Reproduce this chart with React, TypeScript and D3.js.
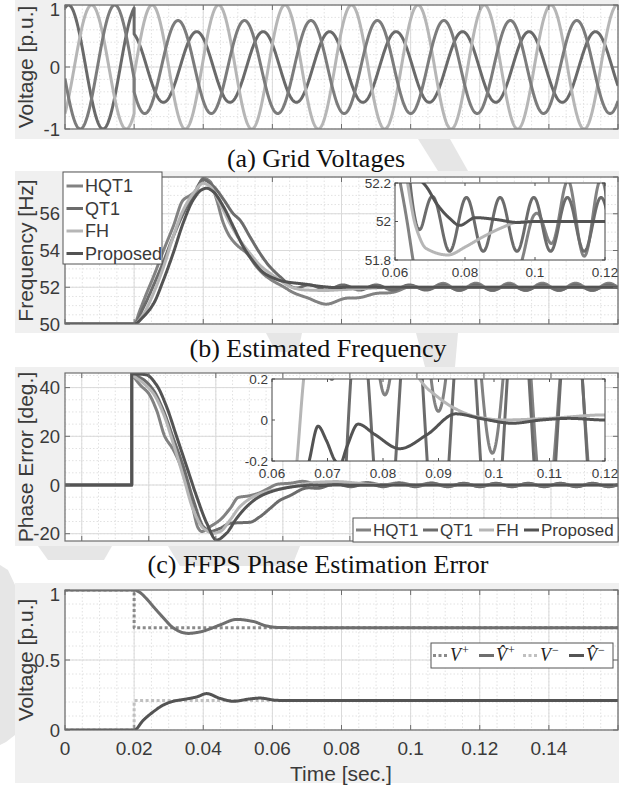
import React from "react";
import * as d3 from "d3";

type Pt = [number, number];

const W = 636;
const H = 789;
const LEFT = 65;
const RIGHT = 618;
const SANS = "'Liberation Sans', Arial, Helvetica, sans-serif";
const SERIF = "'Liberation Serif', 'Times New Roman', Times, serif";
const TXT = "#3a3a3a";
const FIG_BG = "#f0f0f0";
const GRID_MAJOR = "#dadada";
const GRID_MINOR = "#e2e2e2";
const AXIS = "#6e6e6e";
const MARK = "#e6e6e6";

// estimator names / colours (legend order = draw order)
const methods = ["HQT1", "QT1", "FH", "Proposed"];
const methodColors = ["#828282", "#6c6c6c", "#b6b6b6", "#535353"];

// ---------- (a) grid voltages: crest time + amplitude of each phase, before / after the fault
const faultT = 0.02;
const fPre = 50;
const fPost = 52;
const phaseColors = ["#6a6a6a", "#b6b6b6", "#7c7c7c"];
const crestPre = [0.001, 0.0077, 0.0144];
const ampPre = [1, 1, 1];
const crestPost = [0.0381, 0.0252, 0.0327];
const ampPost = [0.57, 1.0, 0.75];

// ---------- (b) estimated frequency [Hz]
const freqHQT1: Pt[] = [
  [0, 50], [0.02, 50], [0.0217, 50.76], [0.0236, 51.67], [0.0256, 52.57], [0.0285, 54.0],
  [0.0313, 55.3], [0.0342, 56.75], [0.0362, 57.0], [0.0381, 57.3], [0.04, 57.93], [0.042, 57.75],
  [0.0439, 56.75], [0.0458, 55.5], [0.0477, 54.75], [0.0497, 54.3], [0.0526, 53.85], [0.0555, 53.1],
  [0.0584, 52.57], [0.0612, 52.2], [0.0641, 51.94], [0.067, 51.67], [0.0699, 51.4], [0.0728, 51.2],
  [0.0755, 51.13], [0.0823, 51.4], [0.0919, 51.67], [0.096, 51.82], [0.1, 51.97], [0.105, 52.02],
  [0.16, 52.02],
];
const freqQT1: Pt[] = [
  [0, 50], [0.02, 50], [0.0227, 50.9], [0.0256, 52.1], [0.0285, 53.4], [0.0313, 54.75],
  [0.0342, 56.0], [0.0371, 57.0], [0.04, 57.85], [0.0429, 57.5], [0.0458, 56.8], [0.0487, 56.0],
  [0.0506, 55.66], [0.0535, 54.75], [0.0564, 53.85], [0.0593, 53.1], [0.0622, 52.5], [0.0651, 52.2],
  [0.068, 52.03], [0.072, 51.985], [0.16, 51.985],
];
const freqFH: Pt[] = [
  [0, 50], [0.02, 50], [0.0227, 50.54], [0.0256, 51.67], [0.0285, 53.1], [0.0313, 54.75],
  [0.0342, 56.2], [0.0371, 57.1], [0.04, 57.66], [0.042, 57.48], [0.0448, 56.57], [0.0477, 55.48],
  [0.0506, 54.57], [0.0535, 53.85], [0.0564, 53.2], [0.0593, 52.76], [0.0622, 52.39], [0.0636, 52.2],
  [0.066, 51.97], [0.0689, 51.86], [0.0751, 51.826], [0.0803, 51.87], [0.0851, 51.92], [0.0908, 51.97],
  [0.0946, 51.995], [0.1, 52.0], [0.16, 52.0],
];
const freqProposed: Pt[] = [
  [0, 50], [0.02, 50], [0.0227, 50.4], [0.0256, 51.1], [0.0285, 52.4], [0.0313, 53.85],
  [0.0342, 55.5], [0.0371, 56.76], [0.0395, 57.3], [0.041, 57.39], [0.0429, 57.2], [0.0458, 56.4],
  [0.0487, 55.3], [0.0516, 54.2], [0.0545, 53.4], [0.0574, 52.8], [0.0603, 52.5], [0.0632, 52.32],
  [0.066, 52.24], [0.069, 52.18], [0.072, 52.09], [0.0754, 52.02], [0.0785, 51.98], [0.083, 52.02],
  [0.089, 52.01], [0.095, 51.995], [0.1, 52.0], [0.16, 52.0],
];
// 2x52 Hz ripple: crest time and amplitude envelopes [Hz]
const rippleHz = 104;
const freqRippleCrest = 0.0708;
const freqEnvHQT1: Pt[] = [[0.055, 0], [0.065, 0.05], [0.095, 0.05], [0.1, 0.07], [0.105, 0.14], [0.11, 0.2], [0.16, 0.2]];
const freqEnvQT1: Pt[] = [[0.058, 0], [0.064, 0.14], [0.16, 0.14]];

// ---------- (c) phase error [deg]
const phaseJumpT = 0.0149;
const phaseHQT1: Pt[] = [
  [0.0149, 45.6], [0.0174, 41.1], [0.0199, 37.7], [0.0223, 30.8], [0.0248, 19.9], [0.0273, 14.5],
  [0.0303, 4.9], [0.0328, -7.5], [0.0348, -17.8], [0.0358, -19.1], [0.0383, -17.1], [0.0413, -14.3],
  [0.0443, -9.6], [0.0467, -5.1], [0.0497, -4.5], [0.0527, -3.4], [0.0557, -1.4], [0.0587, 0.4],
  [0.0622, 1.0], [0.0661, 1.0], [0.0701, 0.7], [0.08, 0.6], [0.09, 0.5], [0.1, 0.35], [0.11, 0.1],
  [0.12, 0.0], [0.16, 0.0],
];
const phaseQT1: Pt[] = [
  [0.0149, 45.6], [0.0184, 43.3], [0.0213, 39.1], [0.0243, 30.8], [0.0273, 19.2], [0.0303, 7.6],
  [0.0333, -6.2], [0.0363, -17.1], [0.0383, -19.1], [0.0413, -17.8], [0.0443, -15.7], [0.0472, -15.5],
  [0.0502, -15.3], [0.0532, -13.0], [0.0562, -9.6], [0.0592, -6.2], [0.0622, -4.1], [0.0661, -2.1],
  [0.0701, -0.7], [0.08, 0.0], [0.16, 0.0],
];
const phaseFH: Pt[] = [
  [0.0149, 45.3], [0.0184, 41.8], [0.0213, 37.7], [0.0243, 29.5], [0.0273, 17.1], [0.0303, 3.5],
  [0.0333, -10.3], [0.0363, -17.8], [0.0393, -19.8], [0.0413, -19.1], [0.0443, -14.3], [0.0472, -8.9],
  [0.0512, -4.8], [0.0552, -2.7], [0.0601, -1.4], [0.0645, -0.2], [0.0657, 0.2], [0.07, 1.1],
  [0.076, 1.4], [0.082, 0.8], [0.0866, 0.2], [0.0896, 0.118], [0.0931, 0.054], [0.0968, 0.016],
  [0.1015, 0.0], [0.1099, 0.008], [0.12, 0.025], [0.16, 0.02],
];
const phaseProposed: Pt[] = [
  [0.0149, 45.6], [0.0175, 45.5], [0.0194, 45.2], [0.0223, 41.1], [0.0253, 32.2], [0.0283, 19.9],
  [0.0313, 7.6], [0.0343, -4.8], [0.0373, -15.7], [0.0402, -22.6], [0.0432, -19.8], [0.0462, -13.7],
  [0.0492, -8.9], [0.0522, -5.5], [0.0552, -3.4], [0.0601, -1.4], [0.0645, -0.45], [0.0667, -0.2],
  [0.0683, -0.03], [0.0698, -0.1], [0.0714, -0.2], [0.0722, -0.22], [0.0735, -0.13], [0.0755, -0.02],
  [0.0785, -0.07], [0.083, -0.14], [0.088, -0.07], [0.0931, 0.03], [0.098, 0.005], [0.1033, -0.016],
  [0.1085, 0.0], [0.1135, 0.008], [0.12, 0.0], [0.16, 0.0],
];
const phaseRippleZero = 0.0731;
const phaseEnvHQT1: Pt[] = [[0.055, 0], [0.065, 0.5], [0.095, 0.45], [0.105, 0.6], [0.16, 0.6]];
const phaseEnvQT1: Pt[] = [[0.058, 0], [0.068, 0.7], [0.16, 0.7]];

// ---------- (d) sequence voltages [p.u.]
const vPosRef: Pt[] = [[0, 1], [0.02, 1], [0.02, 0.73], [0.16, 0.73]];
const vNegRef: Pt[] = [[0, 0], [0.02, 0], [0.02, 0.21], [0.16, 0.21]];
const vPosEst: Pt[] = [
  [0, 1], [0.02, 1], [0.0215, 0.985], [0.0235, 0.94], [0.0256, 0.88], [0.0285, 0.8], [0.0313, 0.73],
  [0.0342, 0.695], [0.0357, 0.69], [0.039, 0.7], [0.041, 0.714], [0.0448, 0.75], [0.0497, 0.79],
  [0.0545, 0.775], [0.058, 0.745], [0.0612, 0.733], [0.07, 0.73], [0.16, 0.73],
];
const vNegEst: Pt[] = [
  [0, 0], [0.02, 0], [0.0227, 0.071], [0.0256, 0.131], [0.0285, 0.179], [0.0313, 0.205],
  [0.0352, 0.222], [0.0381, 0.236], [0.041, 0.26], [0.0448, 0.226], [0.0487, 0.205], [0.0535, 0.222],
  [0.0564, 0.228], [0.0612, 0.212], [0.066, 0.21], [0.16, 0.21],
];
const seqLabels = [
  { base: "V", hat: false, sup: "+" },
  { base: "V", hat: true, sup: "+" },
  { base: "V", hat: false, sup: "\u2212" },
  { base: "V", hat: true, sup: "\u2212" },
];
const seqColors = ["#8a8a8a", "#6e6e6e", "#c0c0c0", "#545454"];

const timeTicks = [0, 0.02, 0.04, 0.06, 0.08, 0.1, 0.12, 0.14];

// faint background watermark pieces (page pixels)
const watermark: Pt[][] = [
  [[418, 139], [450, 139], [468, 171], [438, 171]],
  [[416, 333], [458, 333], [455, 367], [425, 367]],
  [[266, 333], [302, 333], [298, 352], [276, 352]],
  [[38, 546], [112, 546], [104, 560], [48, 560]],
  [[168, 546], [300, 546], [292, 566], [180, 566]],
  [[0, 565], [8, 570], [15, 585], [15, 735], [6, 742], [0, 745]],
];

// monotone cubic (Fritsch-Carlson) through the read points
function monotone(pts: Pt[]) {
  const n = pts.length;
  const xs = pts.map((p) => p[0]);
  const ys = pts.map((p) => p[1]);
  const d: number[] = [];
  for (let i = 0; i < n - 1; i++) d.push((ys[i + 1] - ys[i]) / (xs[i + 1] - xs[i]));
  const m: number[] = new Array(n).fill(0);
  m[0] = d[0];
  m[n - 1] = d[n - 2];
  for (let i = 1; i < n - 1; i++) {
    if (d[i - 1] * d[i] > 0) {
      const h0 = xs[i] - xs[i - 1];
      const h1 = xs[i + 1] - xs[i];
      const w1 = 2 * h1 + h0;
      const w2 = h1 + 2 * h0;
      m[i] = (w1 + w2) / (w1 / d[i - 1] + w2 / d[i]);
    }
  }
  return (t: number) => {
    if (t <= xs[0]) return ys[0];
    if (t >= xs[n - 1]) return ys[n - 1];
    const i = Math.min(d3.bisectRight(xs, t) - 1, n - 2);
    const h = xs[i + 1] - xs[i];
    const s = (t - xs[i]) / h;
    const s2 = s * s;
    const s3 = s2 * s;
    return (
      (2 * s3 - 3 * s2 + 1) * ys[i] + (s3 - 2 * s2 + s) * h * m[i] +
      (-2 * s3 + 3 * s2) * ys[i + 1] + (s3 - s2) * h * m[i + 1]
    );
  };
}

function envelope(pts: Pt[]) {
  return d3.scaleLinear().domain(pts.map((p) => p[0])).range(pts.map((p) => p[1])).clamp(true);
}

function sample(base: Pt[], extra?: (t: number) => number, step = 0.0001): Pt[] {
  const f = monotone(base);
  const t0 = base[0][0];
  const t1 = base[base.length - 1][0];
  const ts = d3.range(t0, t1, step).concat([t1]);
  return ts.map((t) => [t, f(t) + (extra ? extra(t) : 0)] as Pt);
}

function freqRipple(env: Pt[]) {
  const e = envelope(env);
  return (t: number) => e(t) * Math.cos(2 * Math.PI * rippleHz * (t - freqRippleCrest));
}
function phaseRipple(env: Pt[]) {
  const e = envelope(env);
  return (t: number) => e(t) * Math.sin(2 * Math.PI * rippleHz * (t - phaseRippleZero));
}

function phaseWave(i: number): Pt[] {
  const ts = d3.range(0, 0.16, 0.0001).concat([0.16]);
  const pre = (t: number) => ampPre[i] * Math.cos(2 * Math.PI * fPre * (t - crestPre[i]));
  const post = (t: number) => ampPost[i] * Math.cos(2 * Math.PI * fPost * (t - crestPost[i]));
  const out: Pt[] = [];
  ts.forEach((t) => {
    if (t < faultT - 1e-9) out.push([t, pre(t)]);
    else {
      if (out.length && out[out.length - 1][0] < faultT) {
        out.push([faultT, pre(faultT)]);
        out.push([faultT, post(faultT)]);
      }
      out.push([t, post(t)]);
    }
  });
  return out;
}

const fmt = (v: number) => String(+v.toFixed(3));

type Sc = d3.ScaleLinear<number, number>;

function Under({ xs, ys, xMinor, xMajor, yMinor, yMajor }: { xs: Sc; ys: Sc; xMinor: number[]; xMajor: number[]; yMinor: number[]; yMajor: number[] }) {
  const [top, bottom] = [ys.range()[1], ys.range()[0]];
  return (
    <g>
      <rect x={LEFT} y={top} width={RIGHT - LEFT} height={bottom - top} fill="#fff" />
      {xMinor.map((v, i) => (
        <line key={"xm" + i} x1={xs(v)} x2={xs(v)} y1={top} y2={bottom} stroke={GRID_MINOR} strokeDasharray="1.5,2" />
      ))}
      {yMinor.map((v, i) => (
        <line key={"ym" + i} x1={LEFT} x2={RIGHT} y1={ys(v)} y2={ys(v)} stroke={GRID_MINOR} strokeDasharray="1.5,2" />
      ))}
      {xMajor.map((v, i) => (
        <line key={"xM" + i} x1={xs(v)} x2={xs(v)} y1={top} y2={bottom} stroke={GRID_MAJOR} />
      ))}
      {yMajor.map((v, i) => (
        <line key={"yM" + i} x1={LEFT} x2={RIGHT} y1={ys(v)} y2={ys(v)} stroke={GRID_MAJOR} />
      ))}
    </g>
  );
}

function Over({ xs, ys, xMajor, yMajor, yLabels, yTitle, tick = 5 }: { xs: Sc; ys: Sc; xMajor: number[]; yMajor: number[]; yLabels: number[]; yTitle: string; tick?: number }) {
  const [top, bottom] = [ys.range()[1], ys.range()[0]];
  return (
    <g>
      {xMajor.map((v, i) => (
        <g key={"xt" + i} stroke={AXIS}>
          <line x1={xs(v)} x2={xs(v)} y1={bottom} y2={bottom - tick} />
          <line x1={xs(v)} x2={xs(v)} y1={top} y2={top + tick} />
        </g>
      ))}
      {yMajor.map((v, i) => (
        <g key={"yt" + i} stroke={AXIS}>
          <line x1={LEFT} x2={LEFT + tick} y1={ys(v)} y2={ys(v)} />
          <line x1={RIGHT} x2={RIGHT - tick} y1={ys(v)} y2={ys(v)} />
        </g>
      ))}
      <rect x={LEFT} y={top} width={RIGHT - LEFT} height={bottom - top} fill="none" stroke={AXIS} strokeWidth={1.2} />
      {yLabels.map((v, i) => (
        <text key={"yl" + i} x={60} y={Math.max(ys(v), top + 4)} textAnchor="end" dominantBaseline="central" fontSize={18.5} fill={TXT}>
          {fmt(v)}
        </text>
      ))}
      <text transform={`translate(25,${(top + bottom) / 2}) rotate(-90)`} textAnchor="middle" dominantBaseline="central" fontSize={21} fill={TXT}>
        {yTitle}
      </text>
    </g>
  );
}

function Inset({ id, xs, ys, xTicks, yTicks, curves, colors }: { id: string; xs: Sc; ys: Sc; xTicks: number[]; yTicks: number[]; curves: Pt[][]; colors: string[] }) {
  const [x0, x1] = xs.range();
  const [y1, y0] = ys.range();
  const line = d3.line<Pt>().x((p) => xs(p[0])).y((p) => ys(p[1]));
  const lo = xs.domain()[0] - 0.002;
  const hi = xs.domain()[1] + 0.002;
  return (
    <g>
      <defs>
        <clipPath id={id}>
          <rect x={x0} y={y0} width={x1 - x0} height={y1 - y0} />
        </clipPath>
      </defs>
      <rect x={x0} y={y0} width={x1 - x0} height={y1 - y0} fill="#fff" />
      <g clipPath={`url(#${id})`}>
        {curves.map((c, i) => (
          <path key={i} d={line(c.filter((p) => p[0] >= lo && p[0] <= hi)) || ""} fill="none" stroke={colors[i]} strokeWidth={3} strokeLinejoin="round" />
        ))}
      </g>
      {xTicks.map((v, i) => (
        <g key={"x" + i}>
          <line x1={xs(v)} x2={xs(v)} y1={y1} y2={y1 - 3} stroke="#555" />
          <line x1={xs(v)} x2={xs(v)} y1={y0} y2={y0 + 3} stroke="#555" />
          <text x={xs(v)} y={y1 + 12} textAnchor="middle" dominantBaseline="central" fontSize={13.5} fill={TXT}>
            {fmt(v)}
          </text>
        </g>
      ))}
      {yTicks.map((v, i) => (
        <g key={"y" + i}>
          <line x1={x0} x2={x0 + 3} y1={ys(v)} y2={ys(v)} stroke="#555" />
          <line x1={x1} x2={x1 - 3} y1={ys(v)} y2={ys(v)} stroke="#555" />
          <text x={x0 - 4} y={ys(v)} textAnchor="end" dominantBaseline="central" fontSize={13.5} fill={TXT}>
            {fmt(v)}
          </text>
        </g>
      ))}
      <rect x={x0} y={y0} width={x1 - x0} height={y1 - y0} fill="none" stroke="#444" />
    </g>
  );
}

export default function App() {
  const x = d3.scaleLinear().domain([0, 0.16]).range([LEFT, RIGHT]);
  const xc = d3.scaleLinear().domain([-0.005, 0.16]).range([LEFT, RIGHT]);
  const ya = d3.scaleLinear().domain([-1, 1]).range([129, 5]);
  const yb = d3.scaleLinear().domain([50, 58]).range([324, 177]);
  const yc = d3.scaleLinear().domain([-23, 46]).range([541, 373]);
  const yd = d3.scaleLinear().domain([0, 1]).range([730, 590]);

  const xMajor = d3.range(0, 0.1601, 0.02);
  const xMinor = d3.range(0, 0.1601, 0.005);
  const xcMinor = d3.range(-0.005, 0.1601, 0.005);

  const waves = [0, 1, 2].map(phaseWave);

  const freqCurves = [
    sample(freqHQT1, freqRipple(freqEnvHQT1)),
    sample(freqQT1, freqRipple(freqEnvQT1)),
    sample(freqFH),
    sample(freqProposed),
  ];
  const pre: Pt[] = [[-0.005, 0], [phaseJumpT, 0]];
  const phaseCurves = [
    pre.concat(sample(phaseHQT1, phaseRipple(phaseEnvHQT1))),
    pre.concat(sample(phaseQT1, phaseRipple(phaseEnvQT1))),
    pre.concat(sample(phaseFH)),
    pre.concat(sample(phaseProposed)),
  ];
  const seqCurves = [vPosRef, sample(vPosEst), vNegRef, sample(vNegEst)];

  const lineA = d3.line<Pt>().x((p) => x(p[0])).y((p) => ya(p[1]));
  const lineB = d3.line<Pt>().x((p) => x(p[0])).y((p) => yb(p[1]));
  const lineC = d3.line<Pt>().x((p) => xc(p[0])).y((p) => yc(p[1]));
  const lineD = d3.line<Pt>().x((p) => x(p[0])).y((p) => yd(p[1]));
  const blob = d3.line<Pt>().curve(d3.curveLinearClosed);

  const clip = (id: string, ys: Sc) => (
    <clipPath id={id}>
      <rect x={LEFT} y={ys.range()[1]} width={RIGHT - LEFT} height={ys.range()[0] - ys.range()[1]} />
    </clipPath>
  );

  const ibx = d3.scaleLinear().domain([0.06, 0.12]).range([395, 605]);
  const iby = d3.scaleLinear().domain([51.8, 52.2]).range([260, 183]);
  const icx = d3.scaleLinear().domain([0.06, 0.12]).range([272, 605]);
  const icy = d3.scaleLinear().domain([-0.2, 0.2]).range([461, 379]);

  const captionStyle = { fontFamily: SERIF, fontSize: 26, fill: "#111", textAnchor: "middle" as const };

  return (
    <svg width={W} height={H} style={{ position: "absolute", left: 0, top: 0, background: "#fff" }} fontFamily={SANS}>
      <defs>
        {clip("ca", ya)}
        {clip("cb", yb)}
        {clip("cc", yc)}
        {clip("cd", yd)}
      </defs>

      {/* watermark */}
      {watermark.map((p, i) => (
        <path key={"wm" + i} d={blob(p) || ""} fill={MARK} />
      ))}

      {/* figure backgrounds */}
      <rect x={15} y={0} width={604} height={139} fill={FIG_BG} />
      <rect x={15} y={171} width={604} height={162} fill={FIG_BG} />
      <rect x={15} y={367} width={604} height={179} fill={FIG_BG} />
      <rect x={15} y={583} width={604} height={200} fill={FIG_BG} />

      {/* (a) grid voltages */}
      <Under xs={x} ys={ya} xMinor={xMinor} xMajor={xMajor} yMinor={d3.range(-1, 1.001, 0.2)} yMajor={[-1, 0, 1]} />
      <g clipPath="url(#ca)">
        {waves.map((w, i) => (
          <path key={i} d={lineA(w) || ""} fill="none" stroke={phaseColors[i]} strokeWidth={3} strokeLinejoin="round" />
        ))}
      </g>
      <Over xs={x} ys={ya} xMajor={xMajor} yMajor={[-1, 0, 1]} yLabels={[1, 0, -1]} yTitle="Voltage [p.u.]" />
      <text x={316} y={167} {...captionStyle}>(a) Grid Voltages</text>

      {/* (b) estimated frequency */}
      <Under xs={x} ys={yb} xMinor={xMinor} xMajor={xMajor} yMinor={d3.range(50, 58.01, 0.5)} yMajor={[50, 52, 54, 56, 58]} />
      <g clipPath="url(#cb)">
        {freqCurves.map((c, i) => (
          <path key={i} d={lineB(c) || ""} fill="none" stroke={methodColors[i]} strokeWidth={3} strokeLinejoin="round" />
        ))}
      </g>
      <Over xs={x} ys={yb} xMajor={xMajor} yMajor={[50, 52, 54, 56, 58]} yLabels={[50, 52, 54, 56]} yTitle="Frequency [Hz]" />
      <Inset id="ib" xs={ibx} ys={iby} xTicks={[0.06, 0.08, 0.1, 0.12]} yTicks={[51.8, 52, 52.2]} curves={freqCurves} colors={methodColors} />
      <g>
        <rect x={63} y={172} width={99} height={92} fill="#fff" stroke="#555" />
        {methods.map((m, i) => (
          <g key={m}>
            <line x1={66.5} x2={83} y1={186 + i * 22.5} y2={186 + i * 22.5} stroke={methodColors[i]} strokeWidth={3} />
            <text x={85} y={186 + i * 22.5} dominantBaseline="central" fontSize={18} fill={TXT}>{m}</text>
          </g>
        ))}
      </g>
      <text x={318} y={357} {...captionStyle}>(b) Estimated Frequency</text>

      {/* (c) phase error */}
      <Under xs={xc} ys={yc} xMinor={xcMinor} xMajor={xMajor} yMinor={d3.range(-20, 46, 5)} yMajor={[-20, 0, 20, 40]} />
      <g clipPath="url(#cc)">
        {phaseCurves.map((c, i) => (
          <path key={i} d={lineC(c) || ""} fill="none" stroke={methodColors[i]} strokeWidth={3} strokeLinejoin="round" />
        ))}
      </g>
      <Over xs={xc} ys={yc} xMajor={xMajor} yMajor={[-20, 0, 20, 40]} yLabels={[40, 20, 0, -20]} yTitle="Phase Error [deg.]" />
      <Inset id="ic" xs={icx} ys={icy} xTicks={d3.range(0.06, 0.1201, 0.01)} yTicks={[-0.2, 0, 0.2]} curves={phaseCurves} colors={methodColors} />
      <g>
        <rect x={353} y={518} width={265} height={24} fill="#fff" stroke="#555" />
        {methods.map((m, i) => {
          const xs0 = [356, 423, 479, 524][i];
          return (
            <g key={m}>
              <line x1={xs0} x2={xs0 + 15} y1={530} y2={530} stroke={methodColors[i]} strokeWidth={3} />
              <text x={xs0 + 17} y={530} dominantBaseline="central" fontSize={17} fill={TXT}>{m}</text>
            </g>
          );
        })}
      </g>
      <text x={318} y={573} {...captionStyle}>(c) FFPS Phase Estimation Error</text>

      {/* (d) sequence components */}
      <Under xs={x} ys={yd} xMinor={xMinor} xMajor={xMajor} yMinor={d3.range(0, 1.001, 0.1)} yMajor={[0, 0.5, 1]} />
      <g clipPath="url(#cd)">
        {seqCurves.map((c, i) => (
          <path key={i} d={lineD(c) || ""} fill="none" stroke={seqColors[i]} strokeWidth={3}
            strokeDasharray={i % 2 === 0 ? "3,2.5" : undefined} strokeLinejoin="round" />
        ))}
      </g>
      <Over xs={x} ys={yd} xMajor={xMajor} yMajor={[0, 0.5, 1]} yLabels={[1, 0.5, 0]} yTitle="Voltage [p.u.]" />
      {timeTicks.map((v) => (
        <text key={v} x={x(v)} y={748} textAnchor="middle" dominantBaseline="central" fontSize={19} fill={TXT}>{fmt(v)}</text>
      ))}
      <text x={341} y={773} textAnchor="middle" dominantBaseline="central" fontSize={21} fill={TXT}>Time [sec.]</text>
      <g>
        <rect x={431} y={643} width={182} height={25} fill="#fff" stroke="#555" />
        {seqLabels.map((s, i) => {
          const lx = [433, 479, 523, 569][i];
          return (
            <g key={i}>
              <line x1={lx} x2={lx + 15} y1={655.5} y2={655.5} stroke={seqColors[i]} strokeWidth={3}
                strokeDasharray={i % 2 === 0 ? "3,2.5" : undefined} />
              <text x={lx + 17} y={661} fontFamily={SERIF} fontSize={18} fill="#222">
                <tspan fontStyle="italic">{s.hat ? "V\u0302" : "V"}</tspan>
                <tspan fontSize={12} dy={-7} dx={1}>{s.sup}</tspan>
              </text>
            </g>
          );
        })}
      </g>
    </svg>
  );
}
